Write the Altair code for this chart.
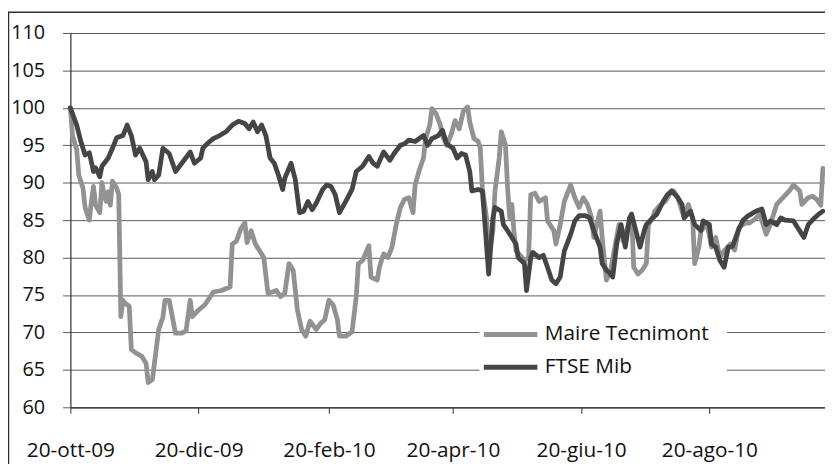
import json
import altair as alt
import pandas as pd

# ---------------- data ----------------
series_names = ["Maire Tecnimont", "FTSE Mib"]
series_colors = ["#929292", "#454545"]

maire_dates = [
    "2009-10-20", "2009-10-21", "2009-10-23", "2009-10-24", "2009-10-26", "2009-10-27", "2009-10-29",
    "2009-10-30", "2009-10-31", "2009-11-01", "2009-11-03", "2009-11-04", "2009-11-05", "2009-11-06",
    "2009-11-07", "2009-11-08", "2009-11-09", "2009-11-11", "2009-11-12", "2009-11-13", "2009-11-14",
    "2009-11-15", "2009-11-17", "2009-11-18", "2009-11-20", "2009-11-23", "2009-11-25", "2009-11-26",
    "2009-11-28", "2009-11-29", "2009-12-01", "2009-12-03", "2009-12-04", "2009-12-06", "2009-12-09",
    "2009-12-12", "2009-12-14", "2009-12-16", "2009-12-17", "2009-12-20", "2009-12-23", "2009-12-27",
    "2009-12-31", "2010-01-04", "2010-01-05", "2010-01-07", "2010-01-09", "2010-01-11", "2010-01-12",
    "2010-01-14", "2010-01-16", "2010-01-18", "2010-01-20", "2010-01-22", "2010-01-24", "2010-01-26",
    "2010-01-28", "2010-01-30", "2010-02-01", "2010-02-03", "2010-02-05", "2010-02-07", "2010-02-09",
    "2010-02-11", "2010-02-14", "2010-02-16", "2010-02-18", "2010-02-20", "2010-02-22", "2010-02-24",
    "2010-02-25", "2010-02-28", "2010-03-03", "2010-03-05", "2010-03-06", "2010-03-08", "2010-03-11",
    "2010-03-12", "2010-03-15", "2010-03-16", "2010-03-18", "2010-03-20", "2010-03-22", "2010-03-24",
    "2010-03-26", "2010-03-28", "2010-03-30", "2010-04-01", "2010-04-02", "2010-04-04", "2010-04-06",
    "2010-04-07", "2010-04-09", "2010-04-10", "2010-04-12", "2010-04-14", "2010-04-15", "2010-04-17",
    "2010-04-19", "2010-04-21", "2010-04-23", "2010-04-25", "2010-04-27", "2010-04-28", "2010-04-30",
    "2010-05-02", "2010-05-03", "2010-05-04", "2010-05-06", "2010-05-07", "2010-05-09", "2010-05-10",
    "2010-05-12", "2010-05-13", "2010-05-15", "2010-05-16", "2010-05-17", "2010-05-18", "2010-05-19",
    "2010-05-20", "2010-05-23", "2010-05-24", "2010-05-26", "2010-05-27", "2010-05-29", "2010-05-31",
    "2010-06-03", "2010-06-04", "2010-06-07", "2010-06-08", "2010-06-10", "2010-06-12", "2010-06-15",
    "2010-06-17", "2010-06-19", "2010-06-21", "2010-06-23", "2010-06-25", "2010-06-26", "2010-06-29",
    "2010-06-30", "2010-07-02", "2010-07-04", "2010-07-06", "2010-07-08", "2010-07-10", "2010-07-12",
    "2010-07-14", "2010-07-15", "2010-07-17", "2010-07-19", "2010-07-21", "2010-07-22", "2010-07-24",
    "2010-07-25", "2010-07-28", "2010-07-30", "2010-08-02", "2010-08-03", "2010-08-05", "2010-08-08",
    "2010-08-10", "2010-08-12", "2010-08-13", "2010-08-15", "2010-08-16", "2010-08-19", "2010-08-21",
    "2010-08-23", "2010-08-25", "2010-08-27", "2010-08-30", "2010-09-01", "2010-09-03", "2010-09-06",
    "2010-09-08", "2010-09-11", "2010-09-13", "2010-09-16", "2010-09-18", "2010-09-21", "2010-09-24",
    "2010-09-27", "2010-09-29", "2010-10-02", "2010-10-03", "2010-10-06", "2010-10-08", "2010-10-10",
    "2010-10-12", "2010-10-13",
]
maire_values = [
    100, 96.3, 94.4, 91, 89.3, 86.7, 85,
    87.5, 89.5, 87, 86, 90, 88.5, 87.5,
    88.8, 87, 90.2, 89.3, 88.4, 72.1, 74.3,
    73.9, 73.5, 67.7, 67.3, 66.8, 65.9, 63.3,
    63.7, 65.9, 70.4, 72, 74.3, 74.3, 69.9,
    69.9, 70.2, 74.3, 72.1, 73, 73.7, 75.4,
    75.6, 76.1, 81.8, 82.2, 83.8, 84.7, 82,
    83.6, 81.8, 80.9, 80, 75.2, 75.4, 75.6,
    74.8, 75.2, 79.2, 78.3, 73, 70.4, 69.5,
    71.5, 70.4, 71.2, 71.7, 74.3, 73.7, 71.7,
    69.5, 69.5, 70.1, 74.8, 79.2, 79.6, 81.6,
    77.4, 77, 78.7, 80.5, 80, 81.4, 84.4,
    86.7, 87.8, 88, 86, 89.7, 91.7, 93.3,
    95.9, 97.7, 99.9, 99.2, 97.7, 96.3, 95,
    96.3, 98.3, 97.2, 99.6, 100.1, 98.1, 95.9,
    95.5, 94.6, 89.3, 85.3, 80, 83.6, 88.9,
    93.3, 96.8, 95, 89.3, 85.3, 87.1, 83.6,
    80.9, 80, 79.6, 80, 88.4, 88.6, 87.5,
    88, 84.9, 83.6, 81.8, 84.4, 87.5, 89.7,
    88, 86.7, 88, 87.1, 85.3, 82.7, 86.2,
    82.7, 77, 78.3, 81.4, 84.4, 82.2, 84,
    85.8, 78.7, 77.8, 78.3, 79.2, 84.4, 85.3,
    86.2, 87.1, 87.5, 88.9, 88.9, 88, 85.3,
    87.1, 85.3, 79.2, 81.4, 83.6, 84.4, 81.4,
    82.7, 80, 80.9, 81.8, 81, 84, 84.6,
    84.6, 85.2, 85.8, 83.1, 84.4, 87.1, 88,
    88.9, 89.7, 88.9, 87.1, 88, 88.2, 87.8,
    87, 91.9,
]

ftse_dates = [
    "2009-10-20", "2009-10-23", "2009-10-25", "2009-10-27", "2009-10-29", "2009-10-31", "2009-11-01",
    "2009-11-03", "2009-11-04", "2009-11-07", "2009-11-09", "2009-11-11", "2009-11-14", "2009-11-16",
    "2009-11-18", "2009-11-20", "2009-11-22", "2009-11-25", "2009-11-26", "2009-11-28", "2009-11-29",
    "2009-12-01", "2009-12-03", "2009-12-06", "2009-12-09", "2009-12-12", "2009-12-16", "2009-12-18",
    "2009-12-21", "2009-12-22", "2009-12-24", "2009-12-27", "2009-12-30", "2010-01-02", "2010-01-05",
    "2010-01-08", "2010-01-11", "2010-01-13", "2010-01-15", "2010-01-17", "2010-01-19", "2010-01-21",
    "2010-01-23", "2010-01-25", "2010-01-27", "2010-01-29", "2010-01-30", "2010-02-02", "2010-02-04",
    "2010-02-06", "2010-02-08", "2010-02-10", "2010-02-12", "2010-02-14", "2010-02-17", "2010-02-19",
    "2010-02-21", "2010-02-23", "2010-02-25", "2010-02-28", "2010-03-03", "2010-03-05", "2010-03-08",
    "2010-03-11", "2010-03-13", "2010-03-15", "2010-03-18", "2010-03-21", "2010-03-23", "2010-03-26",
    "2010-03-28", "2010-03-30", "2010-04-02", "2010-04-04", "2010-04-06", "2010-04-08", "2010-04-10",
    "2010-04-13", "2010-04-15", "2010-04-17", "2010-04-20", "2010-04-22", "2010-04-24", "2010-04-26",
    "2010-04-28", "2010-04-29", "2010-05-02", "2010-05-04", "2010-05-05", "2010-05-07", "2010-05-09",
    "2010-05-10", "2010-05-13", "2010-05-14", "2010-05-16", "2010-05-20", "2010-05-21", "2010-05-24",
    "2010-05-25", "2010-05-27", "2010-05-28", "2010-05-31", "2010-06-02", "2010-06-04", "2010-06-06",
    "2010-06-08", "2010-06-10", "2010-06-12", "2010-06-15", "2010-06-17", "2010-06-19", "2010-06-22",
    "2010-06-24", "2010-06-26", "2010-06-29", "2010-06-30", "2010-07-02", "2010-07-03", "2010-07-05",
    "2010-07-07", "2010-07-09", "2010-07-11", "2010-07-13", "2010-07-14", "2010-07-16", "2010-07-18",
    "2010-07-20", "2010-07-21", "2010-07-24", "2010-07-26", "2010-07-29", "2010-07-31", "2010-08-02",
    "2010-08-05", "2010-08-07", "2010-08-08", "2010-08-11", "2010-08-13", "2010-08-16", "2010-08-17",
    "2010-08-20", "2010-08-21", "2010-08-23", "2010-08-25", "2010-08-27", "2010-08-29", "2010-08-31",
    "2010-09-03", "2010-09-05", "2010-09-07", "2010-09-10", "2010-09-12", "2010-09-14", "2010-09-16",
    "2010-09-18", "2010-09-21", "2010-09-23", "2010-09-25", "2010-09-29", "2010-10-01", "2010-10-04",
    "2010-10-06", "2010-10-09", "2010-10-11", "2010-10-13",
]
ftse_values = [
    100, 97.7, 95.5, 93.7, 94, 91.5, 92,
    90.8, 92.2, 93.3, 94.6, 96, 96.3, 97.7,
    96.3, 93.7, 94.6, 92.8, 90.4, 91.5, 90.4,
    91, 94.6, 93.9, 91.5, 92.6, 94.1, 92.6,
    93.3, 94.6, 95.2, 95.9, 96.3, 96.8, 97.7,
    98.2, 97.9, 97.2, 98.1, 96.8, 97.7, 96.3,
    93.3, 92.6, 91, 89.1, 90.6, 92.6, 90.4,
    86, 86.2, 87.5, 86.4, 87.3, 89.1, 89.7,
    89.5, 88.4, 86, 87.5, 89.1, 91.5, 92.2,
    93.5, 92.6, 92.2, 94.1, 93, 93.9, 95,
    95.2, 95.7, 95.5, 95.9, 96.3, 95, 95.9,
    96.3, 97, 95.2, 94.6, 93.3, 93.9, 93.7,
    91.5, 88.9, 89.1, 88.9, 85.3, 77.8, 85.3,
    86.7, 86.2, 84.4, 83.6, 81.8, 80, 79.2,
    75.6, 80, 80.7, 80, 80.3, 78.7, 77,
    76.5, 77.4, 80.9, 83.1, 84.9, 85.6, 85.6,
    85.3, 83.6, 81.4, 79.2, 78.3, 78.1, 77.4,
    82, 84.4, 81.4, 85.3, 85.8, 83.6, 81.4,
    83.6, 84.4, 85.3, 85.8, 87.5, 88.4, 88.9,
    88, 87.1, 85.3, 86.2, 84.4, 83.6, 84.9,
    84.4, 81.8, 81.4, 79.6, 78.7, 81.4, 81.5,
    83.8, 85, 85.5, 86, 86.3, 86.5, 84.4,
    84.9, 84.4, 85.3, 85, 84.9, 84, 82.7,
    84.4, 85.3, 85.8, 86.2,
]

y_ticks = [60, 65, 70, 75, 80, 85, 90, 95, 100, 105, 110]
tick_dates = ["2009-10-20", "2009-12-20", "2010-02-20", "2010-04-20", "2010-06-20", "2010-08-20"]
tick_labels = ["20-ott-09", "20-dic-09", "20-feb-10", "20-apr-10", "20-giu-10", "20-ago-10"]
x_domain = ["2009-10-20", "2010-10-14"]

# ---------------- build table ----------------
df = pd.concat([
    pd.DataFrame({"date": maire_dates, "value": maire_values, "series": series_names[0]}),
    pd.DataFrame({"date": ftse_dates, "value": ftse_values, "series": series_names[1]}),
], ignore_index=True)


def dt(s):
    y, m, d = (int(p) for p in s.split("-"))
    return alt.DateTime(year=y, month=m, date=d, utc=True)


FONT = "Open Sans"
GRID = "#5a5a5a"
DARK = "#2e2e2e"

label_expr = (
    f"{json.dumps(tick_labels)}[indexof({json.dumps(tick_dates)}, "
    f"utcFormat(datum.value, '%Y-%m-%d'))]"
)

x_enc = alt.X(
    "date:T",
    scale=alt.Scale(type="utc", domain=[dt(s) for s in x_domain]),
    axis=alt.Axis(
        values=[dt(s) for s in tick_dates],
        labelExpr=label_expr,
        title=None,
        grid=False,
        tickSize=6,
        tickColor=DARK,
        domainColor=DARK,
        domainWidth=1.2,
        labelPadding=38,
        labelFontSize=21,
        labelFont=FONT,
        labelColor="#111111",
        labelBaseline="middle",
        labelFlush=False,
        labelOverlap=False,
    ),
)

y_enc = alt.Y(
    "value:Q",
    scale=alt.Scale(domain=[60, 110], nice=False, zero=False),
    axis=alt.Axis(
        values=y_ticks,
        title=None,
        grid=True,
        gridColor=GRID,
        gridWidth=1,
        tickSize=8,
        tickColor=GRID,
        domainColor=DARK,
        domainWidth=1.2,
        labelPadding=18,
        labelFontSize=20,
        labelFont=FONT,
        labelColor="#111111",
        labelBaseline="middle",
    ),
)

color_enc = alt.Color(
    "series:N",
    scale=alt.Scale(domain=series_names, range=series_colors),
    sort=series_names,
    legend=alt.Legend(
        title=None,
        orient="none",
        legendX=413,
        legendY=273,
        padding=18,
        fillColor="white",
        symbolType="M-2.5,0H2.5",
        symbolSize=467,
        symbolStrokeWidth=5,
        labelFont=FONT,
        labelFontSize=21,
        labelColor="#111111",
        labelOffset=21,
        labelLimit=400,
        rowPadding=9,
    ),
)

base = alt.Chart(df)

maire_line = base.transform_filter(
    alt.datum.series == series_names[0]
).mark_line(strokeWidth=4.8, strokeJoin="round", strokeCap="round").encode(
    x=x_enc, y=y_enc, color=color_enc
)

ftse_line = base.transform_filter(
    alt.datum.series == series_names[1]
).mark_line(strokeWidth=4.8, strokeJoin="round", strokeCap="round").encode(
    x=x_enc, y=y_enc, color=color_enc
)

frame = alt.Chart(pd.DataFrame({"frame": [0]})).mark_rect(
    filled=False, stroke=DARK, strokeWidth=1.5
).encode(
    x=alt.value(-62.5), x2=alt.value(800), y=alt.value(-21), y2=alt.value(460)
)

chart = alt.layer(maire_line, ftse_line, frame).properties(
    width=762,
    height=378,
    autosize=alt.AutoSizeParams(type="none"),
    padding={"left": 63, "top": 23, "right": 0, "bottom": 55},
    background="white",
).configure_view(strokeWidth=0)

chart.save("out.html", embed_options={"renderer": "svg", "actions": False})
